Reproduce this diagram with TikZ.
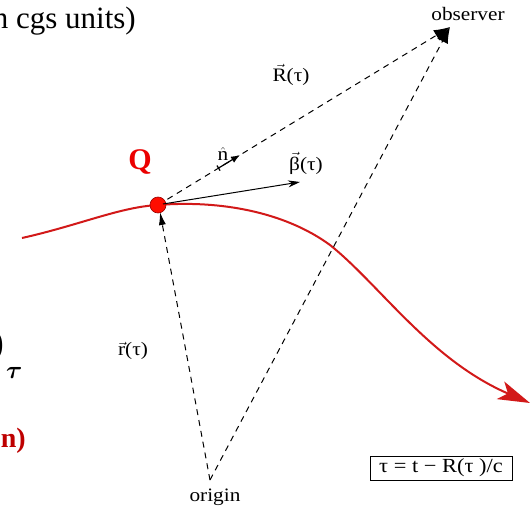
\documentclass[tikz,border=0pt]{standalone}
\usepackage{fontspec}
\setmainfont{Liberation Serif}
\newfontfamily\lblfont[FakeStretch=1.12]{Liberation Serif}
\usetikzlibrary{arrows.meta}
\definecolor{curvered}{RGB}{210,25,25}
\definecolor{qred}{RGB}{235,0,0}
\definecolor{darkred}{RGB}{190,0,0}
\newcommand{\ovec}[1]{\ensuremath{\vec{\mbox{#1}}}}
\newcommand{\ohat}[1]{\ensuremath{\hat{\mbox{#1}}}}
\tikzset{
  lbl/.style={inner sep=0pt, font=\lblfont\fontsize{19}{22}\selectfont},
  dline/.style={line width=1pt, dash pattern=on 6pt off 5pt},
  bigtip/.style={-{Latex[length=16pt,width=12pt]}},
}
\begin{document}
\begin{tikzpicture}[x=1pt,y=-1pt]
\fill[white] (0,0) rectangle (532,511);
\useasboundingbox (0,0) rectangle (532,511);

% partial slide texts at the left edge
\node[anchor=base east, inner sep=0pt, font=\fontsize{31}{36}\selectfont] (units) at (136,29) {n cgs units)};
\node[anchor=east, inner sep=0pt, font=\fontsize{36}{40}\selectfont] (paren) at (4,346) {)};
\node[anchor=west, inner sep=0pt, font=\boldmath\fontsize{26}{30}\selectfont] (tausub) at (6,373) {$\tau$};
\node[anchor=base east, inner sep=0pt, text=darkred, font=\bfseries\fontsize{28}{32}\selectfont] (redn) at (26,447) {n)};

% key points
\coordinate (Qpt) at (158,205);
\coordinate (obsTip) at (450,27);
\coordinate (origTip) at (210,480);
\coordinate (dotTip) at (160,212);
\coordinate (betaTip) at (300,182);
\coordinate (nTail) at (218,168.4);
\coordinate (nTip) at (240,155);

% trajectory
\draw[curvered, line width=2pt, -{Stealth[length=32pt,width=19pt,inset=8pt]}]
  (22,238) .. controls (80,225) and (120,207) .. (Qpt)
  .. controls (220,200) and (285,212) .. (330,245)
  .. controls (380,285) and (430,360) .. (530,403);

% dashed vectors
\draw[dline, bigtip] (Qpt) -- (obsTip);
\draw[dline, bigtip] (origTip) -- (obsTip);
\draw[dline, -{Latex[length=13pt,width=7pt]}] (origTip) -- (dotTip);

% charge
\node[circle, fill=red!90!orange, draw=red!60!black, line width=0.6pt, minimum size=16pt, inner sep=0pt] (dot) at (Qpt) {};
\draw[line width=1pt, -{Stealth[length=12pt,width=7pt]}] (dot.center) ++(5,-1) coordinate (bstart) (bstart) -- (betaTip);
\draw[line width=1.2pt, {Bar[width=6pt]}-{Latex[length=9pt,width=7pt]}] (nTail) -- (nTip);

% labels
\node[text=qred, inner sep=0pt, font=\bfseries\fontsize{30}{34}\selectfont] (Q) at (140,162) {Q};
\node[lbl] (obs) at (468,14) {observer};
\node[lbl] (orig) at (215,497) {origin};
\node[lbl] (Rlbl) at (291,75) {\ovec{R}(τ)};
\node[lbl] (nlbl) at (223,154) {\ohat{n}};
\node[lbl] (blbl) at (306,163) {\ovec{β}(τ)};
\node[lbl] (rlbl) at (133,351) {\ovec{r}(τ)};
\node[lbl, draw, line width=0.8pt, minimum width=142pt, minimum height=24pt, font=\lblfont\fontsize{20}{23}\selectfont] (eq) at (441,468) {τ = t − R(τ )/c};
\end{tikzpicture}
\end{document}
